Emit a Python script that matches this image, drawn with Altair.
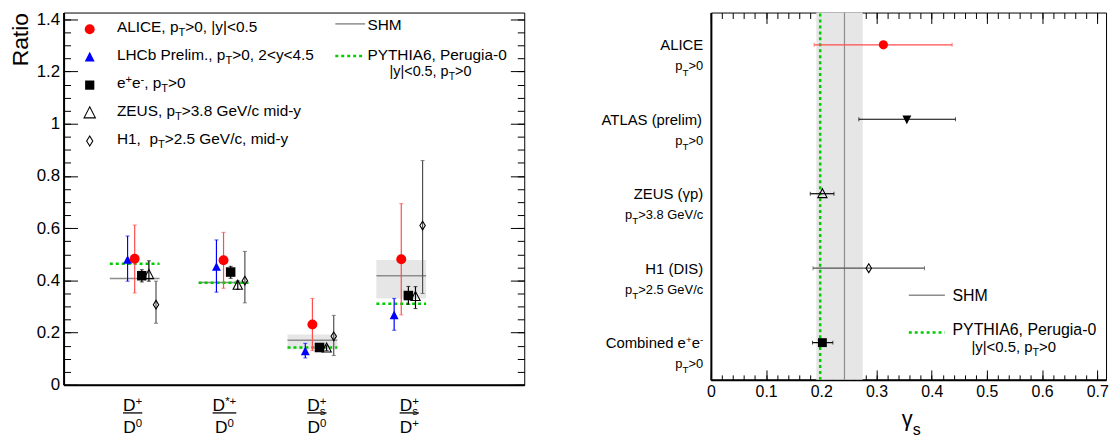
import altair as alt
import pandas as pd

FONT = "Liberation Sans"

# ===================== DATA : left panel (production ratios) =====================
group_pos = [1, 2, 3, 4]
label_pos = [0.977, 2.01, 3.05, 4.09]
ratio_num = [[("D", "n"), ("+", "sup")],
             [("D", "n"), ("*+", "sup")],
             [("D", "n"), ("+", "sup"), ("s", "sub", True)],
             [("D", "n"), ("+", "sup"), ("s", "sub", True)]]
ratio_den = [[("D", "n"), ("0", "sup")],
             [("D", "n"), ("0", "sup")],
             [("D", "n"), ("0", "sup")],
             [("D", "n"), ("+", "sup")]]

alice_r = [0.483, 0.477, 0.231, 0.481]
alice_r_lo = [0.352, 0.370, 0.131, 0.268]
alice_r_hi = [0.612, 0.584, 0.331, 0.694]
lhcb_r = [0.478, 0.451, 0.128, 0.266]
lhcb_r_lo = [0.397, 0.355, 0.103, 0.209]
lhcb_r_hi = [0.570, 0.555, 0.159, 0.331]
ee_r = [0.418, 0.432, 0.143, 0.342]
ee_r_lo = [0.394, 0.408, 0.133, 0.309]
ee_r_hi = [0.441, 0.454, 0.153, 0.377]
zeus_r = [0.422, 0.381, 0.141, 0.338]
zeus_r_lo = [0.397, 0.366, 0.131, 0.292]
zeus_r_hi = [0.475, 0.398, 0.151, 0.376]
h1_r = [0.307, 0.399, 0.186, 0.610]
h1_r_lo = [0.236, 0.314, 0.112, 0.350]
h1_r_hi = [0.397, 0.511, 0.266, 0.859]

shm_r = [0.407, 0.392, 0.171, 0.418]
shm_r_lo = [0.407, 0.392, 0.135, 0.331]
shm_r_hi = [0.407, 0.392, 0.193, 0.478]
pythia_r = [0.464, 0.391, 0.143, 0.311]

legend_left = [
    [("ALICE, p", "n"), ("T", "sub"), (">0, |y|<0.5", "n")],
    [("LHCb Prelim., p", "n"), ("T", "sub"), (">0, 2<y<4.5", "n")],
    [("e", "n"), ("+", "sup"), ("e", "n"), ("-", "sup"), (", p", "n"), ("T", "sub"), (">0", "n")],
    [("ZEUS, p", "n"), ("T", "sub"), (">3.8 GeV/c mid-y", "n")],
    [("H1,\u00a0 p", "n"), ("T", "sub"), (">2.5 GeV/c, mid-y", "n")],
]
pythia_sub = [("|y|<0.5, p", "n"), ("T", "sub"), (">0", "n")]

yL_major = [0, 0.2, 0.4, 0.6, 0.8, 1.0, 1.2, 1.4]
yL_minor = [round(0.05 * i, 2) for i in range(29)]

# ===================== DATA : right panel (gamma_s) =====================
row_pos = [4.5, 3.5, 2.5, 1.5, 0.5]
gamma_rows = [[("ALICE", "n")],
              [("ATLAS (prelim)", "n")],
              [("ZEUS (γp)", "n")],
              [("H1 (DIS)", "n")],
              [("Combined e", "n"), ("+", "sup"), ("e", "n"), ("-", "sup")]]
gamma_cuts = [">0", ">0", ">3.8 GeV/c", ">2.5 GeV/c", ">0"]
gamma_s = [0.3125, 0.355, 0.202, 0.286, 0.202]
gamma_s_lo = [0.187, 0.268, 0.180, 0.185, 0.184]
gamma_s_hi = [0.437, 0.443, 0.223, 0.387, 0.221]
shm_gamma = 0.242
shm_gamma_band = [0.191, 0.275]
pythia_gamma = 0.198

xR_major = [0, 0.1, 0.2, 0.3, 0.4, 0.5, 0.6, 0.7]
xR_minor = [round(0.02 * i, 2) for i in range(36)]

# ===================== geometry / scales =====================
WL, HL = 464, 375
XLdom = [0.2, 5.384]
YLdom = [0, 1.426]
WR, HR = 398, 370
XRdom = [0, 0.7158]
YRdom = [0, 4.9333]
pxxL = WL / (XLdom[1] - XLdom[0])
pxyL = HL / (YLdom[1] - YLdom[0])
pxxR = WR / (XRdom[1] - XRdom[0])
pxyR = HR / (YRdom[1] - YRdom[0])
XL = alt.Scale(domain=XLdom, nice=False, zero=False)
YL = alt.Scale(domain=YLdom, nice=False, zero=False)
XR = alt.Scale(domain=XRdom, nice=False, zero=False)
YR = alt.Scale(domain=YRdom, nice=False, zero=False)

TRI_UP = "M0,-1.1L1,0.85L-1,0.85Z"
TRI_DN = "M0,1.1L1,-0.85L-1,-0.85Z"
DIAM = "M0,-1L0.62,0L0,1L-0.62,0Z"

# ===================== text helpers (Arial / Liberation Sans metrics) =====================
AW = {' ': 278, '\u00a0': 278, '(': 333, ')': 333, '*': 389, '+': 584, ',': 278, '-': 333, '.': 278,
      '/': 278, '<': 584, '>': 584, '|': 260, 'γ': 500}
for c in "0123456789":
    AW[c] = 556
AW.update(dict(A=667, B=667, C=722, D=722, E=667, F=611, G=778, H=722, I=278, J=500, K=667, L=556,
               M=833, N=722, O=778, P=667, Q=778, R=722, S=667, T=611, U=722, V=667, W=944, X=667,
               Y=667, Z=611))
AW.update(dict(a=556, b=556, c=500, d=556, e=556, f=278, g=556, h=556, i=222, j=222, k=500, l=222,
               m=833, n=556, o=556, p=556, q=556, r=333, s=500, t=278, u=556, v=500, w=722, x=500,
               y=500, z=500))


def text_width(s, size):
    return sum(AW.get(c, 556) for c in s) * size / 1000.0


def compose(segs, fs, sub_ratio, sup_dy, sub_dy):
    pieces, x, prev = [], 0.0, 0.0
    for seg in segs:
        t, role = seg[0], seg[1]
        stack = len(seg) > 2 and seg[2]
        size = fs if role == "n" else fs * sub_ratio
        dy = 0.0 if role == "n" else fs * (sup_dy if role == "sup" else sub_dy)
        w = text_width(t, size)
        start = prev if stack else x
        x = max(x, start + w)
        pieces.append((t, start, dy, size))
        prev = start
    return pieces, x


def place(segs, x0, y0, fs, pxx, pxy, align="left", color="black",
          sub_ratio=0.7, sup_dy=-0.32, sub_dy=0.28):
    pieces, w = compose(segs, fs, sub_ratio, sup_dy, sub_dy)
    shift = {"left": 0.0, "center": -w / 2.0, "right": -w}[align]
    return [dict(x=x0 + (dx + shift) / pxx, y=y0 - dy / pxy, text=t, size=round(s, 2), color=color)
            for t, dx, dy, s in pieces]


def text_layer(rows, xs, ys):
    return alt.Chart(pd.DataFrame(rows)).mark_text(
        align="left", baseline="alphabetic", font=FONT).encode(
        x=alt.X("x:Q", scale=xs, axis=None),
        y=alt.Y("y:Q", scale=ys, axis=None),
        text="text:N",
        size=alt.Size("size:Q", scale=None),
        color=alt.Color("color:N", scale=None),
    )


def tick_axis(orient, offset, values, size):
    return alt.Axis(orient=orient, offset=offset, values=values, ticks=True, tickSize=size,
                    tickColor="black", tickWidth=1, labels=False, domain=False, grid=False, title=None)


# ===================== LEFT PANEL =====================
series_L = [
    dict(v=lhcb_r, lo=lhcb_r_lo, hi=lhcb_r_hi, off=-0.08, shape=TRI_UP, color="#0000ff",
         ec="#0000ff", filled=True, size=80, lsize=100),
    dict(v=alice_r, lo=alice_r_lo, hi=alice_r_hi, off=0.0, shape="circle", color="#ff0000",
         ec="#ff4d4d", filled=True, size=100, lsize=100),
    dict(v=ee_r, lo=ee_r_lo, hi=ee_r_hi, off=0.08, shape="square", color="black",
         ec="black", filled=True, size=92, lsize=86),
    dict(v=zeus_r, lo=zeus_r_lo, hi=zeus_r_hi, off=0.16, shape=TRI_UP, color="black",
         ec="black", filled=False, size=88, lsize=130),
    dict(v=h1_r, lo=h1_r_lo, hi=h1_r_hi, off=0.24, shape=DIAM, color="black",
         ec="#505050", filled=False, size=76, lsize=100),
]
legend_order = [1, 0, 2, 3, 4]

grp = pd.DataFrame(dict(g=group_pos, shm=shm_r, lo=shm_r_lo, hi=shm_r_hi, py=pythia_r))
grp["xa"] = grp["g"] - 0.28
grp["xb"] = grp["g"] + 0.28

axL_x = alt.Axis(orient="bottom", labels=False, ticks=False, domain=True, domainColor="black",
                 domainWidth=2, grid=False, title=None)
axL_y = alt.Axis(orient="left", values=yL_major, format="~g", labelFontSize=17, labelPadding=4,
                 labelColor="black", labelFont=FONT, ticks=False, tickSize=0, domain=True,
                 domainColor="black", domainWidth=2, grid=False, title="Ratio", titleFontSize=23,
                 titleFont=FONT, titleFontWeight="normal", titleAnchor="end", titlePadding=4,
                 titleColor="black")

band_L = alt.Chart(grp).mark_rect(color="#e6e6e6").encode(
    x=alt.X("xa:Q", scale=XL, axis=axL_x), x2="xb",
    y=alt.Y("lo:Q", scale=YL, axis=axL_y), y2="hi")
shm_L = alt.Chart(grp).mark_rule(color="#8c8c8c", strokeWidth=1.5).encode(
    x=alt.X("xa:Q", scale=XL, axis=None), x2="xb",
    y=alt.Y("shm:Q", scale=YL, axis=tick_axis("right", -WL, yL_major, 14)))
py_L = alt.Chart(grp).mark_rule(color="#00cc00", strokeWidth=2.5, strokeDash=[3, 3]).encode(
    x=alt.X("xa:Q", scale=XL, axis=None), x2="xb",
    y=alt.Y("py:Q", scale=YL, axis=tick_axis("right", -WL, yL_minor, 7)))

err_rows, cap_rows = [], []
for s in series_L:
    for g, v, lo, hi in zip(group_pos, s["v"], s["lo"], s["hi"]):
        err_rows.append(dict(x=g + s["off"], lo=lo, hi=hi, ec=s["ec"]))
        cap_rows.append(dict(x=g + s["off"], y=lo, ec=s["ec"]))
        cap_rows.append(dict(x=g + s["off"], y=hi, ec=s["ec"]))
err_L = alt.Chart(pd.DataFrame(err_rows)).mark_rule(strokeWidth=1.2).encode(
    x=alt.X("x:Q", scale=XL, axis=None),
    y=alt.Y("lo:Q", scale=YL, axis=tick_axis("left", -WL, yL_major, 14)), y2="hi",
    color=alt.Color("ec:N", scale=None))
cap_L = alt.Chart(pd.DataFrame(cap_rows)).mark_tick(orient="horizontal", size=4, thickness=1).encode(
    x=alt.X("x:Q", scale=XL, axis=None),
    y=alt.Y("y:Q", scale=YL, axis=tick_axis("left", -WL, yL_minor, 7)),
    color=alt.Color("ec:N", scale=None))

layers_L = [band_L, shm_L, py_L, err_L, cap_L]
for s in series_L:
    df = pd.DataFrame(dict(x=[g + s["off"] for g in group_pos], v=s["v"]))
    layers_L.append(alt.Chart(df).mark_point(
        shape=s["shape"], filled=s["filled"], color=s["color"], size=s["size"], opacity=1,
        strokeWidth=1.1).encode(x=alt.X("x:Q", scale=XL, axis=None), y=alt.Y("v:Q", scale=YL, axis=None)))

# legend (left)
leg_y = [1.362 - 0.107 * i for i in range(5)]
for i, k in enumerate(legend_order):
    s = series_L[k]
    df = pd.DataFrame(dict(x=[0.494], y=[leg_y[i]]))
    layers_L.append(alt.Chart(df).mark_point(
        shape=s["shape"], filled=s["filled"], color=s["color"], size=s["lsize"], opacity=1,
        strokeWidth=1.1).encode(x=alt.X("x:Q", scale=XL, axis=None), y=alt.Y("y:Q", scale=YL, axis=None)))

txt_L = []
for i in range(5):
    txt_L += place(legend_left[i], 0.8, leg_y[i] - 0.010, 15.5, pxxL, pxyL, sub_ratio=0.72, sub_dy=0.28)
txt_L += place([("SHM", "n")], 3.619, 1.3586, 15.5, pxxL, pxyL)
txt_L += place([("PYTHIA6, Perugia-0", "n")], 3.619, 1.246, 15.5, pxxL, pxyL)
txt_L += place(pythia_sub, 4.329, 1.183, 14.5, pxxL, pxyL, align="center", sub_ratio=0.72)

leg_lines_L = pd.DataFrame(dict(xa=[3.258, 3.258], xb=[3.593, 3.593], y=[1.3825, 1.2597],
                                kind=["shm", "py"]))
layers_L.append(alt.Chart(leg_lines_L[leg_lines_L.kind == "shm"]).mark_rule(
    color="#8c8c8c", strokeWidth=1.5).encode(
    x=alt.X("xa:Q", scale=XL, axis=None), x2="xb", y=alt.Y("y:Q", scale=YL, axis=None)))
layers_L.append(alt.Chart(leg_lines_L[leg_lines_L.kind == "py"]).mark_rule(
    color="#00cc00", strokeWidth=2.5, strokeDash=[3, 3]).encode(
    x=alt.X("xa:Q", scale=XL, axis=None), x2="xb", y=alt.Y("y:Q", scale=YL, axis=None)))

# category fraction labels
bars = []
for k in range(4):
    kw = dict(sub_ratio=0.66, sup_dy=-0.33, sub_dy=0.24)
    _, wn = compose(ratio_num[k], 17.5, **kw)
    _, wd = compose(ratio_den[k], 17.5, **kw)
    wbar = max(wn, wd)
    txt_L += place(ratio_num[k], label_pos[k], -0.100, 17.5, pxxL, pxyL, align="center", **kw)
    txt_L += place(ratio_den[k], label_pos[k], -0.185, 17.5, pxxL, pxyL, align="center", **kw)
    bars.append(dict(xa=label_pos[k] - wbar / 2 / pxxL, xb=label_pos[k] + wbar / 2 / pxxL, y=-0.1076))
layers_L.append(alt.Chart(pd.DataFrame(bars)).mark_rule(color="black", strokeWidth=1.3).encode(
    x=alt.X("xa:Q", scale=XL, axis=None), x2="xb", y=alt.Y("y:Q", scale=YL, axis=None)))
layers_L.append(text_layer(txt_L, XL, YL))

left = alt.layer(*layers_L).resolve_axis(x="independent", y="independent").properties(
    width=WL, height=HL)

# ===================== RIGHT PANEL =====================
axR_x = alt.Axis(orient="bottom", values=xR_major, format="~g", labelFontSize=16, labelPadding=4,
                 labelColor="black", labelFont=FONT, labelFlush=False, ticks=False, tickSize=0,
                 domain=True, domainColor="black", domainWidth=2, grid=False, title=None)
axR_y = alt.Axis(orient="left", labels=False, ticks=False, domain=True, domainColor="black",
                 domainWidth=2, grid=False, title=None)

vert = pd.DataFrame(dict(lo=[shm_gamma_band[0]], hi=[shm_gamma_band[1]], shm=[shm_gamma],
                         py=[pythia_gamma]))
band_R = alt.Chart(vert).mark_rect(color="#e6e6e6").encode(
    x=alt.X("lo:Q", scale=XR, axis=axR_x), x2="hi",
    y=alt.Y(datum=YRdom[0], scale=YR, axis=axR_y), y2=alt.Y2(datum=YRdom[1]))
shm_R = alt.Chart(vert).mark_rule(color="#8c8c8c", strokeWidth=1.2).encode(
    x=alt.X("shm:Q", scale=XR, axis=tick_axis("top", -HR, xR_major, 10)),
    y=alt.Y(datum=YRdom[0], scale=YR, axis=None), y2=alt.Y2(datum=YRdom[1]))
py_R = alt.Chart(vert).mark_rule(color="#00cc00", strokeWidth=2.5, strokeDash=[3, 3]).encode(
    x=alt.X("py:Q", scale=XR, axis=tick_axis("top", -HR, xR_minor, 5)),
    y=alt.Y(datum=YRdom[0], scale=YR, axis=None), y2=alt.Y2(datum=YRdom[1]))

series_R = [
    dict(shape="circle", color="#ff0000", ec="#ff4d4d", filled=True, size=85),
    dict(shape=TRI_DN, color="black", ec="black", filled=True, size=80),
    dict(shape=TRI_UP, color="black", ec="black", filled=False, size=85),
    dict(shape=DIAM, color="black", ec="#505050", filled=False, size=80),
    dict(shape="square", color="black", ec="black", filled=True, size=80),
]
errR, capR = [], []
for i, s in enumerate(series_R):
    errR.append(dict(y=row_pos[i], lo=gamma_s_lo[i], hi=gamma_s_hi[i], ec=s["ec"]))
    capR.append(dict(y=row_pos[i], x=gamma_s_lo[i], ec=s["ec"]))
    capR.append(dict(y=row_pos[i], x=gamma_s_hi[i], ec=s["ec"]))
err_R = alt.Chart(pd.DataFrame(errR)).mark_rule(strokeWidth=1.2).encode(
    x=alt.X("lo:Q", scale=XR, axis=tick_axis("bottom", -HR, xR_major, 11)), x2="hi",
    y=alt.Y("y:Q", scale=YR, axis=None), color=alt.Color("ec:N", scale=None))
cap_R = alt.Chart(pd.DataFrame(capR)).mark_tick(orient="vertical", size=4, thickness=1).encode(
    x=alt.X("x:Q", scale=XR, axis=tick_axis("bottom", -HR, xR_minor, 6)),
    y=alt.Y("y:Q", scale=YR, axis=None), color=alt.Color("ec:N", scale=None))

layers_R = [band_R, shm_R, py_R, err_R, cap_R]
for i, s in enumerate(series_R):
    df = pd.DataFrame(dict(x=[gamma_s[i]], y=[row_pos[i]]))
    layers_R.append(alt.Chart(df).mark_point(
        shape=s["shape"], filled=s["filled"], color=s["color"], size=s["size"], opacity=1,
        strokeWidth=1.1).encode(x=alt.X("x:Q", scale=XR, axis=None), y=alt.Y("y:Q", scale=YR, axis=None)))

leg_lines_R = pd.DataFrame(dict(xa=[0.3585, 0.3585], xb=[0.4239, 0.4239], y=[1.137, 0.636],
                                kind=["shm", "py"]))
layers_R.append(alt.Chart(leg_lines_R[leg_lines_R.kind == "shm"]).mark_rule(
    color="#8c8c8c", strokeWidth=1.5).encode(
    x=alt.X("xa:Q", scale=XR, axis=None), x2="xb", y=alt.Y("y:Q", scale=YR, axis=None)))
layers_R.append(alt.Chart(leg_lines_R[leg_lines_R.kind == "py"]).mark_rule(
    color="#00cc00", strokeWidth=2.5, strokeDash=[3, 3]).encode(
    x=alt.X("xa:Q", scale=XR, axis=None), x2="xb", y=alt.Y("y:Q", scale=YR, axis=None)))

txt_R = []
for i in range(5):
    txt_R += place(gamma_rows[i], -0.01385, row_pos[i] - 0.072, 15, pxxR, pxyR, align="right",
                   sub_ratio=0.66, sup_dy=-0.34)
    txt_R += place([("p", "n"), ("T", "sub"), (gamma_cuts[i], "n")], -0.01385, row_pos[i] - 0.344,
                   13, pxxR, pxyR, align="right", sub_ratio=0.77, sub_dy=0.4)
txt_R += place([("SHM", "n")], 0.4376, 1.063, 16, pxxR, pxyR)
txt_R += place([("PYTHIA6, Perugia-0", "n")], 0.4376, 0.600, 16, pxxR, pxyR)
txt_R += place(pythia_sub, 0.5486, 0.375, 15, pxxR, pxyR, align="center", sub_ratio=0.72)
txt_R += place([("γ", "n"), ("s", "sub")], 0.363, -0.623, 22, pxxR, pxyR, align="center",
               sub_ratio=0.73, sub_dy=0.38)
layers_R.append(text_layer(txt_R, XR, YR))

right = alt.layer(*layers_R).resolve_axis(x="independent", y="independent").properties(
    width=WR, height=HR)

chart = alt.hconcat(left, right, spacing=188, bounds="flush").properties(padding=0).configure_view(
    stroke="black", strokeWidth=1).configure_axis(labelFont=FONT, titleFont=FONT)

chart.save("out.html", embed_options={"renderer": "svg", "actions": False})
